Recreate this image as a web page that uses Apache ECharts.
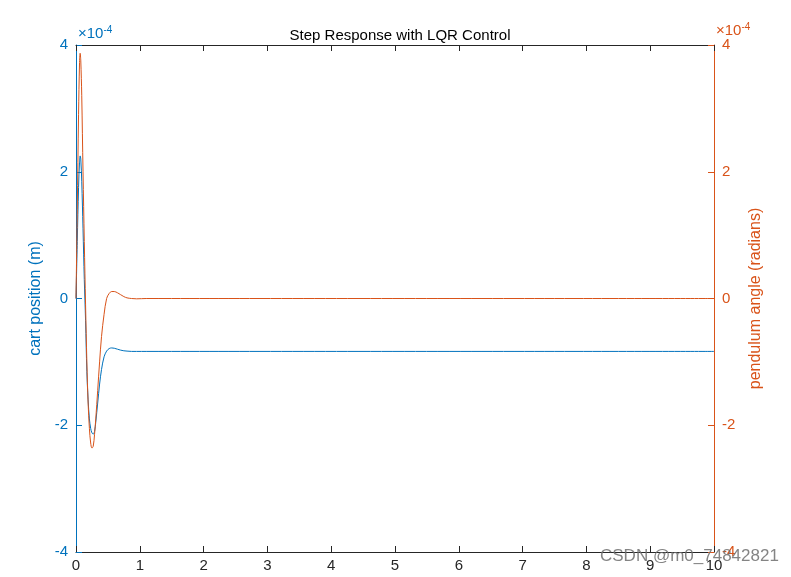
<!DOCTYPE html>
<html>
<head>
<meta charset="utf-8">
<script src="https://cdn.jsdelivr.net/npm/echarts@6/dist/echarts.min.js"></script>
<style>html,body{margin:0;padding:0;background:#fff;}#c{width:791px;height:577px;}</style>
</head>
<body>
<div id="c"></div>
<script>
// time (s)
var time = [0, 0.02, 0.04, 0.055, 0.065, 0.075, 0.09, 0.11, 0.13, 0.15, 0.17, 0.19, 0.21, 0.23, 0.25, 0.27, 0.29, 0.31, 0.34, 0.37, 0.40, 0.44, 0.48, 0.52, 0.56, 0.60, 0.65, 0.70, 0.75, 0.80, 0.87, 0.95, 1.1, 1.5, 10];
// cart position (m), in units of 1e-4
var cartPos = [0, 0.9, 1.75, 2.15, 2.25, 2.2, 1.85, 1.1, 0.3, -0.35, -1.15, -1.6, -1.9, -2.05, -2.12, -2.14, -2.1, -1.95, -1.65, -1.35, -1.12, -0.92, -0.83, -0.79, -0.78, -0.785, -0.8, -0.815, -0.825, -0.83, -0.835, -0.835, -0.835, -0.835, -0.835];
// pendulum angle (radians), in units of 1e-4
var pendAngle = [0, 1.4, 2.9, 3.7, 3.87, 3.75, 3.2, 2.0, 0.9, -0.1, -1.0, -1.65, -2.05, -2.28, -2.36, -2.33, -2.15, -1.9, -1.45, -1.0, -0.6, -0.25, 0.0, 0.08, 0.11, 0.11, 0.09, 0.06, 0.03, 0.01, 0, -0.005, 0, 0, 0];
var xTicks = [0,1,2,3,4,5,6,7,8,9,10];
var yTicks = [-4,-2,0,2,4];

var BLUE = '#0072BD', ORANGE = '#D95319', DARK = '#262626';
var FONT = 'Liberation Sans';
function pairs(x, y){ return x.map(function(v,i){return [v, y[i]];}); }

var chart = echarts.init(document.getElementById('c'), null, {renderer:'canvas'});
chart.setOption({
  animation: false,
  backgroundColor: '#fff',
  title: {
    text: 'Step Response with LQR Control',
    left: 395, top: 23, textAlign: 'center',
    textStyle: {fontFamily: FONT, fontSize: 15, fontWeight: 'normal', color: '#000'}
  },
  grid: {left: 76, right: 77, top: 45, bottom: 25, containLabel: false},
  xAxis: [{
    type: 'value', min: 0, max: 10, interval: 1, position: 'bottom',
    axisLine: {show: true, onZero: false, lineStyle: {color: DARK, width: 1}},
    axisTick: {show: true, inside: true, length: 6, lineStyle: {color: DARK}},
    axisLabel: {color: DARK, fontFamily: FONT, fontSize: 15, margin: 6,
      formatter: function(v){ return xTicks.indexOf(v) >= 0 ? String(v) : ''; }},
    splitLine: {show: false}
  },{
    type: 'value', min: 0, max: 10, interval: 1, position: 'top',
    axisLine: {show: true, onZero: false, lineStyle: {color: DARK, width: 1}},
    axisTick: {show: true, inside: true, length: 6, lineStyle: {color: DARK}},
    axisLabel: {show: false}, splitLine: {show: false}
  }],
  yAxis: [{
    type: 'value', min: -4, max: 4, interval: 2, position: 'left',
    name: 'cart position (m)', nameLocation: 'middle', nameGap: 28,
    nameTextStyle: {color: BLUE, fontFamily: FONT, fontSize: 16},
    axisLine: {show: true, onZero: false, lineStyle: {color: BLUE, width: 1}},
    axisTick: {show: true, inside: true, length: 6, lineStyle: {color: BLUE}},
    axisLabel: {color: BLUE, fontFamily: FONT, fontSize: 15, margin: 8,
      formatter: function(v){ return yTicks.indexOf(v) >= 0 ? String(v) : ''; }},
    splitLine: {show: false}
  },{
    type: 'value', min: -4, max: 4, interval: 2, position: 'right',
    name: 'pendulum angle (radians)', nameLocation: 'middle', nameGap: 34,
    nameTextStyle: {color: ORANGE, fontFamily: FONT, fontSize: 16},
    axisLine: {show: true, onZero: false, lineStyle: {color: ORANGE, width: 1}},
    axisTick: {show: true, inside: true, length: 6, lineStyle: {color: ORANGE}},
    axisLabel: {color: ORANGE, fontFamily: FONT, fontSize: 15, margin: 8,
      formatter: function(v){ return yTicks.indexOf(v) >= 0 ? String(v) : ''; }},
    splitLine: {show: false}
  }],
  graphic: [
    {type: 'text', left: 78, top: 25, style: {
      text: '×10{s|-4}', fill: BLUE, font: '15px "Liberation Sans"',
      rich: {s: {fontSize: 10, fill: BLUE, verticalAlign: 'top', padding:[0,0,8,0], fontFamily: FONT}}}},
    {type: 'text', left: 716, top: 22, style: {
      text: '×10{s|-4}', fill: ORANGE, font: '15px "Liberation Sans"',
      rich: {s: {fontSize: 10, fill: ORANGE, verticalAlign: 'top', padding:[0,0,8,0], fontFamily: FONT}}}},
    {type: 'text', left: 600, top: 548, z: 100, style: {
      text: 'CSDN @m0_74842821', fill: 'rgba(110,110,110,0.85)', font: '17px "Liberation Sans"'}}
  ],
  series: [{
    name: 'cart position', type: 'line', xAxisIndex: 0, yAxisIndex: 0,
    data: pairs(time, cartPos), smooth: 0.35, showSymbol: false,
    lineStyle: {color: BLUE, width: 1}, itemStyle: {color: BLUE}
  },{
    name: 'pendulum angle', type: 'line', xAxisIndex: 0, yAxisIndex: 1,
    data: pairs(time, pendAngle), smooth: 0.35, showSymbol: false,
    lineStyle: {color: ORANGE, width: 1}, itemStyle: {color: ORANGE}
  }]
});
</script>
</body>
</html>
